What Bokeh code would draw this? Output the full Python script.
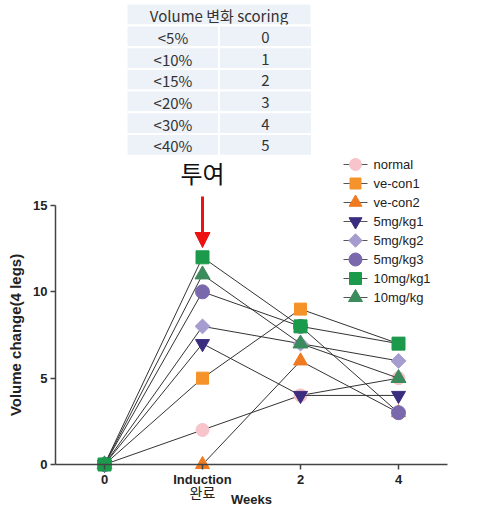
import math
from bokeh.plotting import figure
from bokeh.models import Range1d, FixedTicker, Arrow, NormalHead
from bokeh.core.properties import value
from bokeh.embed import file_html
from bokeh.resources import INLINE

# ---------------- data ----------------
x_labels = ["0", "Induction", "2", "4"]
x_sub_label = "완료"
series_names = ["normal", "ve-con1", "ve-con2", "5mg/kg1", "5mg/kg2", "5mg/kg3", "10mg/kg1", "10mg/kg"]
normal = [0, 2, 4, 5]
ve_con1 = [0, 5, 9, 7]
ve_con2 = [0, 0, 6, 3]
mg5_1 = [0, 7, 4, 4]
mg5_2 = [0, 8, 7, 6]
mg5_3 = [0, 10, 8, 3]
mg10_1 = [0, 12, 8, 7]
mg10 = [0, 11, 7, 5]
y_ticks = [0, 5, 10, 15]

table_header = "Volume 변화 scoring"
table_ranges = ["<5%", "<10%", "<15%", "<20%", "<30%", "<40%"]
table_scores = ["0", "1", "2", "3", "4", "5"]
annotation_text = "투여"

# ---------------- styles ----------------
styles = {
    "normal":   dict(marker="circle", color="#F6C4CA", size=13, angle=0),
    "ve-con1":  dict(marker="square", color="#F5922A", size=12, angle=0),
    "ve-con2":  dict(marker="triangle", color="#F07A20", size=14, angle=0),
    "5mg/kg1":  dict(marker="inverted_triangle", color="#3A2C7E", size=14, angle=0),
    "5mg/kg2":  dict(marker="square", color="#A79CCF", size=10.5, angle=math.pi / 4),
    "5mg/kg3":  dict(marker="circle", color="#7A68AD", size=14, angle=0),
    "10mg/kg1": dict(marker="square", color="#1C9A4C", size=13, angle=0),
    "10mg/kg":  dict(marker="triangle", color="#3B8B5C", size=15, angle=0),
}
values = dict(zip(series_names, [normal, ve_con1, ve_con2, mg5_1, mg5_2, mg5_3, mg10_1, mg10]))

# ---------------- geometry (page pixels -> data) ----------------
W, H = 488, 516
OFF = 0
PX0, DX = 104.0, 98.0           # page x of first category, px per category
PY0, DY = 464.0, 259.0 / 15.0   # page y of value 0, px per unit


def dx(px):
    return (px - PX0) / DX


def dy(py):
    return (PY0 - py) / DY


p = figure(width=W, height=H, output_backend="svg", toolbar_location=None,
           x_range=Range1d(dx(OFF), dx(OFF + W)), y_range=Range1d(dy(OFF + H), dy(OFF)),
           min_border=0, min_border_left=0, min_border_right=0, min_border_top=0, min_border_bottom=0)
p.outline_line_color = None
p.xgrid.visible = False
p.ygrid.visible = False
p.background_fill_color = "white"

AX_FONT = "Liberation Sans"
KR_FONT = "Noto Sans CJK KR"
x_pos = list(range(len(x_labels)))

# x axis
xa = p.xaxis[0]
xa.fixed_location = 0
xa.bounds = (-0.5, len(x_labels) - 0.5)
xa.ticker = FixedTicker(ticks=x_pos)
xa.major_label_overrides = {i: lab for i, lab in zip(x_pos, x_labels)}
xa.minor_tick_line_color = None
xa.major_tick_out = 5
xa.major_tick_in = 0
xa.axis_line_color = "#444444"
xa.axis_line_width = 1.5
xa.major_tick_line_color = "#444444"
xa.major_tick_line_width = 1.5
xa.major_label_text_font = AX_FONT
xa.major_label_text_font_style = "bold"
xa.major_label_text_font_size = "13px"
xa.major_label_text_color = "#222222"
xa.major_label_standoff = 2
xa.axis_label = "Weeks"
xa.axis_label_text_font = AX_FONT
xa.axis_label_text_font_style = "bold"
xa.axis_label_text_font_size = "13px"
xa.axis_label_text_color = "#222222"
xa.axis_label_standoff = 2

# y axis
ya = p.yaxis[0]
ya.fixed_location = -0.5
ya.bounds = (0, 15)
ya.ticker = FixedTicker(ticks=y_ticks)
ya.minor_tick_line_color = None
ya.major_tick_out = 5
ya.major_tick_in = 0
ya.axis_line_color = "#444444"
ya.axis_line_width = 1.5
ya.major_tick_line_color = "#444444"
ya.major_tick_line_width = 1.5
ya.major_label_text_font = AX_FONT
ya.major_label_text_font_style = "bold"
ya.major_label_text_font_size = "13px"
ya.major_label_text_color = "#222222"
ya.major_label_standoff = 3
ya.axis_label = "Volume change(4 legs)"
ya.axis_label_text_font = AX_FONT
ya.axis_label_text_font_style = "bold"
ya.axis_label_text_font_size = "15px"
ya.axis_label_text_color = "#222222"
ya.axis_label_standoff = 6

# second line of the "Induction" tick label
p.text(x=[x_pos[1]], y=[dy(491)], text=[x_sub_label], text_font=value(KR_FONT),
       text_font_size="14px", text_color="#222222", text_align="center", text_baseline="middle")

# ---------------- series ----------------
order = ["normal", "ve-con1", "ve-con2", "5mg/kg1", "5mg/kg2", "5mg/kg3", "10mg/kg", "10mg/kg1"]
for name in order:
    st = styles[name]
    p.line(x_pos, values[name], line_color="#333333", line_width=1)
    p.scatter(x_pos, values[name], marker=st["marker"], size=st["size"], angle=st["angle"],
              fill_color=st["color"], line_color=st["color"])

# ---------------- legend (manual) ----------------
for i, name in enumerate(series_names):
    st = styles[name]
    yy = dy(164 + 19 * i)
    p.segment(x0=[dx(343)], y0=[yy], x1=[dx(367)], y1=[yy], line_color="#555555", line_width=1)
    p.scatter([dx(355)], [yy], marker=st["marker"], size=st["size"] - 1, angle=st["angle"],
              fill_color=st["color"], line_color=st["color"])
    p.text(x=[dx(373)], y=[yy], text=[name], text_font=value(AX_FONT), text_font_size="13px",
           text_color="#222222", text_align="left", text_baseline="middle")

# ---------------- table ----------------
CELL_BG = "#EDF1F8"
tl, tm, tr = 126, 219, 311
p.rect(x=[dx((tl + tr) / 2)], y=[dy(14)], width=tr - tl, height=22,
       width_units="screen", height_units="screen", fill_color=CELL_BG, line_color="white", line_width=2)
p.text(x=[dx((tl + tr) / 2)], y=[dy(15)], text=[table_header], text_font=value(KR_FONT),
       text_font_size="15px", text_color="#333333", text_align="center", text_baseline="middle")
row_h = 21.7
for i, (r, s) in enumerate(zip(table_ranges, table_scores)):
    cy = 25 + row_h * (i + 0.5)
    p.rect(x=[dx((tl + tm) / 2), dx((tm + tr) / 2)], y=[dy(cy), dy(cy)], width=tm - tl, height=row_h,
           width_units="screen", height_units="screen", fill_color=CELL_BG, line_color="white", line_width=2)
    p.text(x=[dx((tl + tm) / 2), dx((tm + tr) / 2)], y=[dy(cy + 1), dy(cy + 1)], text=[r, s],
           text_font=value(KR_FONT), text_font_size="15px", text_color="#333333",
           text_align="center", text_baseline="middle")

# ---------------- annotation ----------------
p.text(x=[x_pos[1]], y=[dy(172)], text=[annotation_text], text_font=value(KR_FONT),
       text_font_size="24px", text_color="#111111", text_align="center", text_baseline="middle")
p.add_layout(Arrow(end=NormalHead(size=15, fill_color="#EE1111", line_color="#EE1111"),
                   x_start=x_pos[1], y_start=dy(196), x_end=x_pos[1], y_end=dy(247),
                   line_color="#EE1111", line_width=3))

open("out.html", "w").write(file_html(p, INLINE))
